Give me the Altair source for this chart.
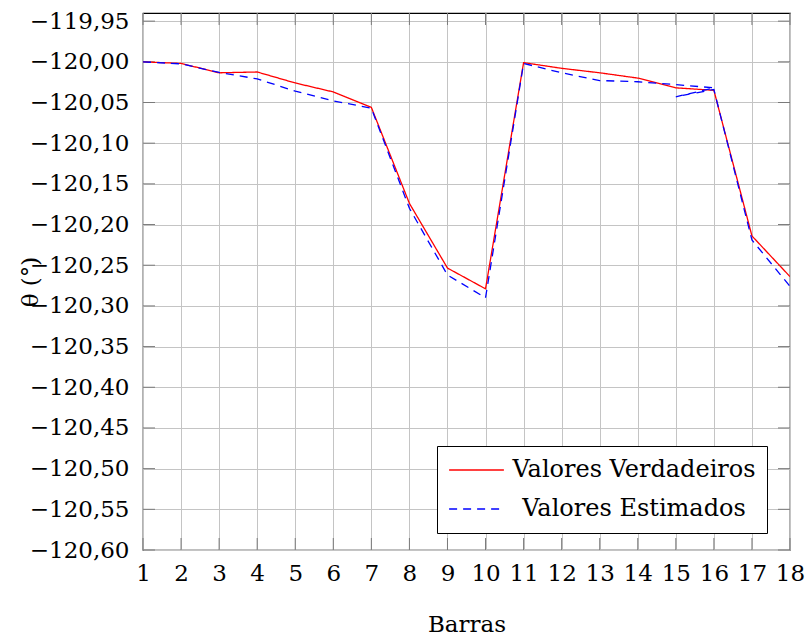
import altair as alt
import pandas as pd

# ---- data ----
series_names = ["Valores Verdadeiros", "Valores Estimados"]

bars_true = [1, 2, 3, 4, 5, 6, 7, 8, 9, 10, 11, 12, 13, 14, 15, 16, 17, 18]
theta_true = [-120.000, -120.002, -120.0135, -120.0125, -120.026, -120.037,
              -120.056, -120.174, -120.2535, -120.279, -120.001, -120.008,
              -120.0135, -120.020, -120.032, -120.035, -120.214, -120.264]

bars_est = [1, 2, 3, 4, 5, 6, 7, 8, 9, 10, 11, 12, 13, 14, 15, 16, 15, 16, 17, 18]
theta_est = [-120.000, -120.0025, -120.013, -120.021, -120.036, -120.048,
             -120.057, -120.180, -120.262, -120.290, -120.002, -120.0135,
             -120.023, -120.0245, -120.028, -120.032, -120.043, -120.034,
             -120.219, -120.276]

x_ticks = [1, 2, 3, 4, 5, 6, 7, 8, 9, 10, 11, 12, 13, 14, 15, 16, 17, 18]
y_ticks = [-120.60, -120.55, -120.50, -120.45, -120.40, -120.35, -120.30,
           -120.25, -120.20, -120.15, -120.10, -120.05, -120.00, -119.95]

# ---- tables ----
rows = []
k = 0
for x, y in zip(bars_true, theta_true):
    rows.append({"serie": series_names[0], "barra": x, "theta": y, "ordem": k})
    k += 1
for x, y in zip(bars_est, theta_est):
    rows.append({"serie": series_names[1], "barra": x, "theta": y, "ordem": k})
    k += 1
df = pd.DataFrame(rows)
df_yt = pd.DataFrame({"v": y_ticks})
df_xt = pd.DataFrame({"v": x_ticks})

W, H = 647, 537
FONT = "DejaVu Serif"
TICK_LEN = 12
TICK_COLOR = "#7a7a7a"

xs = alt.Scale(domain=[1, 18], nice=False, zero=False)
ys = alt.Scale(domain=[-120.60, -119.94], nice=False, zero=False)

x_axis = alt.Axis(values=x_ticks, format="d", title="Barras",
                  labelPadding=12, labelOverlap=False, labelFlush=False,
                  titleX=W / 2, titleY=81,
                  titleBaseline="alphabetic", titleAlign="center")
y_axis = alt.Axis(values=y_ticks,
                  labelExpr="'\u2212' + replace(format(abs(datum.value), '.2f'), '.', ',')",
                  title="\u03b8 (\u00b0)", labelPadding=14,
                  labelOverlap=False, labelFlush=False,
                  titleX=-113, titleY=H / 2, titleAngle=270,
                  titleAlign="center", titleBaseline="middle")

legend_kw = dict(
    title=None, orient="none", legendX=294, legendY=433,
    symbolType="stroke", symbolSize=3000, symbolStrokeWidth=1.3,
    labelFont=FONT, labelFontSize=24, labelColor="black", labelLimit=0,
    labelAlign="center", labelOffset=129, clipHeight=26,
    padding=11, rowPadding=13, fillColor="white", strokeColor="black",
    cornerRadius=0,
)

lines = alt.Chart(df).mark_line(strokeWidth=1.3, clip=True).encode(
    x=alt.X("barra:Q", scale=xs, axis=x_axis, title="Barras"),
    y=alt.Y("theta:Q", scale=ys, axis=y_axis, title="\u03b8 (\u00b0)"),
    color=alt.Color("serie:N",
                    scale=alt.Scale(domain=series_names, range=["#ff0000", "#0000ff"]),
                    legend=alt.Legend(**legend_kw)),
    strokeDash=alt.StrokeDash("serie:N",
                              scale=alt.Scale(domain=series_names, range=[[1, 0], [8, 6]]),
                              legend=alt.Legend(**legend_kw)),
    order="ordem:Q",
)

tick_left = alt.Chart(df_yt).mark_rule(color=TICK_COLOR, strokeWidth=1).encode(
    y=alt.Y("v:Q", scale=ys, axis=y_axis, title="\u03b8 (\u00b0)"),
    x=alt.value(0), x2=alt.value(TICK_LEN))
tick_right = alt.Chart(df_yt).mark_rule(color=TICK_COLOR, strokeWidth=1).encode(
    y=alt.Y("v:Q", scale=ys, axis=y_axis, title="\u03b8 (\u00b0)"),
    x=alt.value(W - TICK_LEN), x2=alt.value(W))
tick_bottom = alt.Chart(df_xt).mark_rule(color=TICK_COLOR, strokeWidth=1).encode(
    x=alt.X("v:Q", scale=xs, axis=x_axis, title="Barras"),
    y=alt.value(H - TICK_LEN), y2=alt.value(H))
tick_top = alt.Chart(df_xt).mark_rule(color=TICK_COLOR, strokeWidth=1).encode(
    x=alt.X("v:Q", scale=xs, axis=x_axis, title="Barras"),
    y=alt.value(0), y2=alt.value(TICK_LEN))

chart = alt.layer(tick_left, tick_right, tick_bottom, tick_top, lines).properties(
    width=W, height=H,
    autosize=alt.AutoSizeParams(type="none"),
    padding={"left": 143, "top": 13, "right": 16, "bottom": 89},
    background="white",
).configure_view(
    stroke="black", strokeWidth=1.2
).configure_axis(
    domain=False, ticks=False, tickSize=0,
    grid=True, gridColor="#c4c4c4", gridWidth=1,
    labelFont=FONT, labelFontSize=23, labelColor="black",
    titleFont=FONT, titleFontSize=23, titleFontWeight="normal", titleColor="black",
)

chart.save("out.html", embed_options={"renderer": "svg", "actions": False})
